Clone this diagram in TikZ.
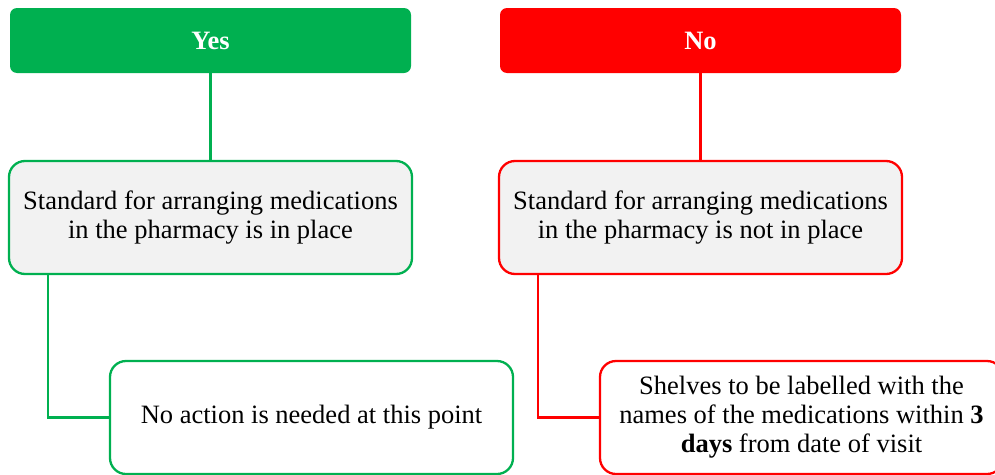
\documentclass[tikz,border=0pt]{standalone}
\usepackage{fontspec}
\setmainfont{Liberation Serif}
\definecolor{okgreen}{HTML}{00B050}
\definecolor{badred}{HTML}{FF0000}
\definecolor{panel}{HTML}{F2F2F2}
\begin{document}
\begin{tikzpicture}[x=1pt,y=-1pt,
  font=\fontsize{26.5}{29}\selectfont,
  header/.style={rectangle, rounded corners=7pt, minimum width=401pt, minimum height=65pt,
    inner sep=0pt, text=white, font=\fontsize{26.5}{29}\selectfont\bfseries},
  statebox/.style={rectangle, rounded corners=16pt, line width=2.3pt, fill=panel,
    minimum width=403pt, minimum height=113pt, inner sep=0pt, align=center},
  actionbox/.style={rectangle, rounded corners=16pt, line width=2.3pt, fill=white,
    minimum width=403pt, minimum height=113pt, inner sep=0pt, align=center},
  link/.style={line width=2.3pt}]
\useasboundingbox (0,0) rectangle (995,474);
\clip (0,0) rectangle (995,474);

% Yes branch
\node[header, fill=okgreen] (yes) at (210.5,40.5) {Yes};
\node[statebox, draw=okgreen] (std1) at (210.5,217.5)
  {Standard for arranging medications\\in the pharmacy is in place};
\node[actionbox, draw=okgreen] (act1) at (311.5,417.5)
  {No action is needed at this point};
\draw[link, okgreen] ([yshift=4pt]yes.south) -- (std1.north);
\draw[link, okgreen] ([xshift=-162.5pt]std1.south) |- (act1.west);

% No branch
\node[header, fill=badred] (no) at (700.5,40.5) {No};
\node[statebox, draw=badred] (std2) at (700.5,217.5)
  {Standard for arranging medications\\in the pharmacy is not in place};
\node[actionbox, draw=badred] (act2) at (801.5,417.5)
  {Shelves to be labelled with the\\names of the medications within \textbf{3}\\\textbf{days} from date of visit};
\draw[link, badred] ([yshift=4pt]no.south) -- (std2.north);
\draw[link, badred] ([xshift=-162.5pt]std2.south) |- (act2.west);
\end{tikzpicture}
\end{document}
